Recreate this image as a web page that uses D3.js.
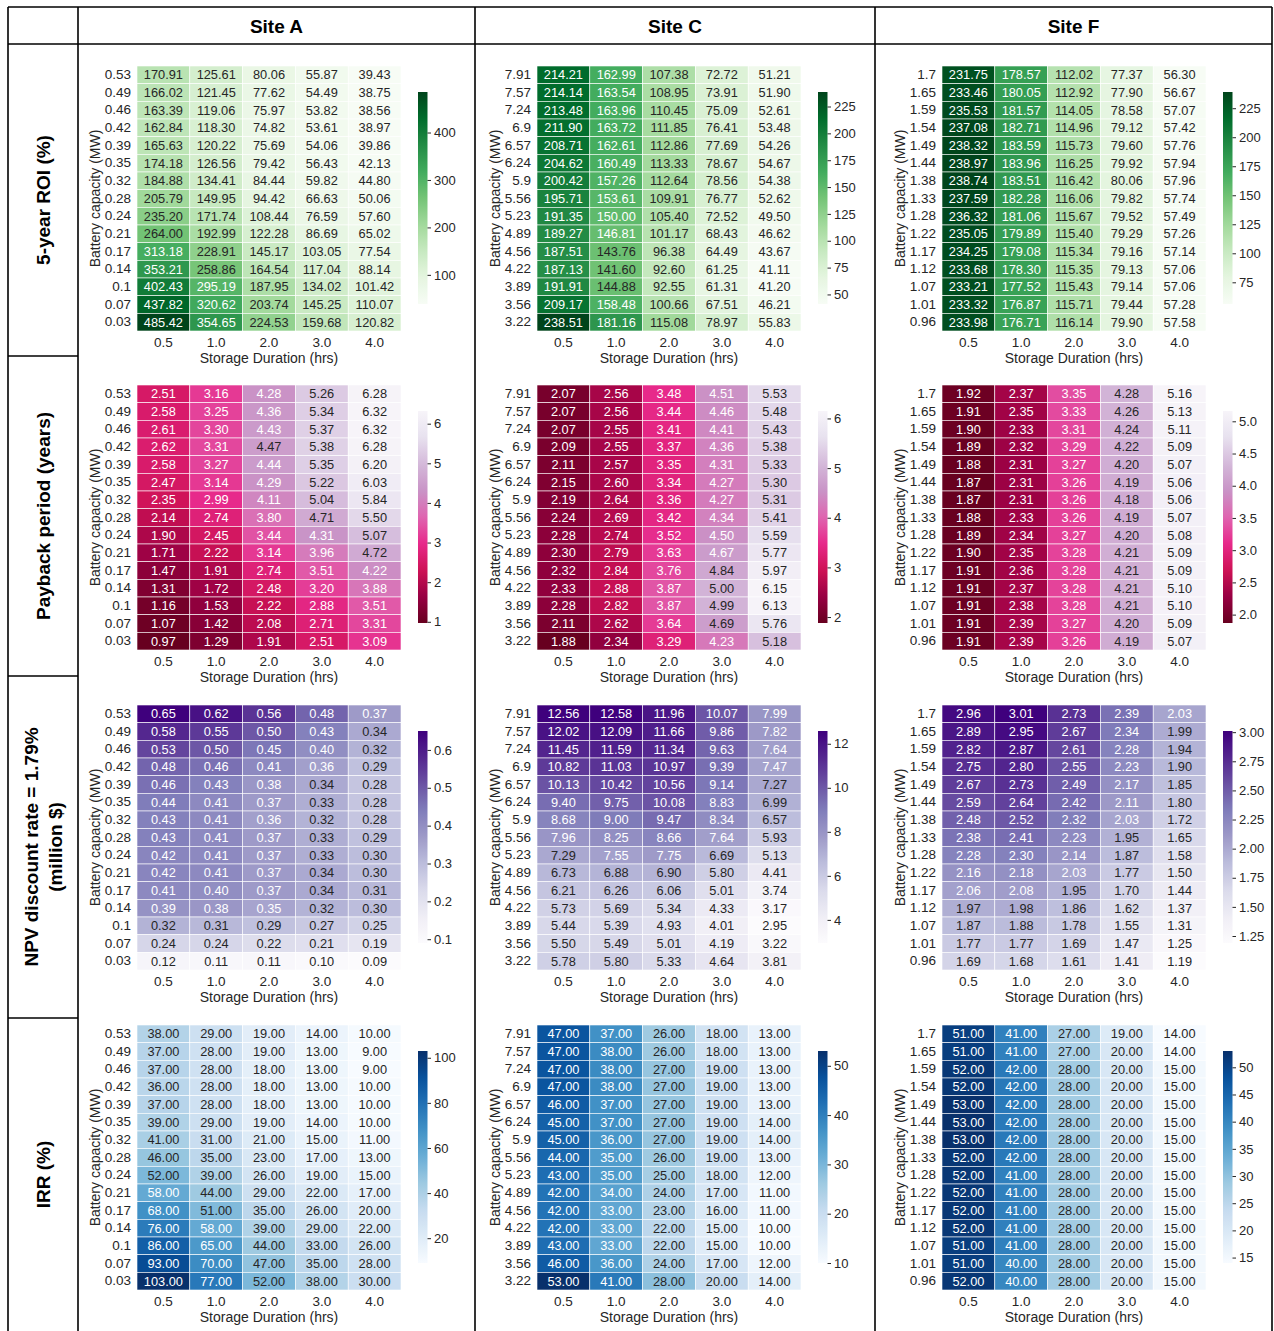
<!DOCTYPE html>
<html>
<head>
<meta charset="utf-8">
<script src="https://cdn.jsdelivr.net/npm/d3@7/dist/d3.min.js"></script>
<style>
    body { margin: 0; background: #fff; }
    svg { font-family: "Liberation Sans", Arial, sans-serif; }
</style>
</head>
<body>
<div class="chart"></div>
<script>

// columns / rows of the grid
var sites = ["Site A", "Site C", "Site F"];
var durations = ["0.5", "1.0", "2.0", "3.0", "4.0"];

var capacityA = ["0.53", "0.49", "0.46", "0.42", "0.39", "0.35", "0.32", "0.28", "0.24", "0.21", "0.17", "0.14", "0.1", "0.07", "0.03"];
var capacityC = ["7.91", "7.57", "7.24", "6.9", "6.57", "6.24", "5.9", "5.56", "5.23", "4.89", "4.56", "4.22", "3.89", "3.56", "3.22"];
var capacityF = ["1.7", "1.65", "1.59", "1.54", "1.49", "1.44", "1.38", "1.33", "1.28", "1.22", "1.17", "1.12", "1.07", "1.01", "0.96"];

// 5-year ROI (%)
var roiA = [
    [170.91, 125.61, 80.06, 55.87, 39.43],
    [166.02, 121.45, 77.62, 54.49, 38.75],
    [163.39, 119.06, 75.97, 53.82, 38.56],
    [162.84, 118.30, 74.82, 53.61, 38.97],
    [165.63, 120.22, 75.69, 54.06, 39.86],
    [174.18, 126.56, 79.42, 56.43, 42.13],
    [184.88, 134.41, 84.44, 59.82, 44.80],
    [205.79, 149.95, 94.42, 66.63, 50.06],
    [235.20, 171.74, 108.44, 76.59, 57.60],
    [264.00, 192.99, 122.28, 86.69, 65.02],
    [313.18, 228.91, 145.17, 103.05, 77.54],
    [353.21, 258.86, 164.54, 117.04, 88.14],
    [402.43, 295.19, 187.95, 134.02, 101.42],
    [437.82, 320.62, 203.74, 145.25, 110.07],
    [485.42, 354.65, 224.53, 159.68, 120.82]
];
var roiC = [
    [214.21, 162.99, 107.38, 72.72, 51.21],
    [214.14, 163.54, 108.95, 73.91, 51.90],
    [213.48, 163.96, 110.45, 75.09, 52.61],
    [211.90, 163.72, 111.85, 76.41, 53.48],
    [208.71, 162.61, 112.86, 77.69, 54.26],
    [204.62, 160.49, 113.33, 78.67, 54.67],
    [200.42, 157.26, 112.64, 78.56, 54.38],
    [195.71, 153.61, 109.91, 76.77, 52.62],
    [191.35, 150.00, 105.40, 72.52, 49.50],
    [189.27, 146.81, 101.17, 68.43, 46.62],
    [187.51, 143.76, 96.38, 64.49, 43.67],
    [187.13, 141.60, 92.60, 61.25, 41.11],
    [191.91, 144.88, 92.55, 61.31, 41.20],
    [209.17, 158.48, 100.66, 67.51, 46.21],
    [238.51, 181.16, 115.08, 78.97, 55.83]
];
var roiF = [
    [231.75, 178.57, 112.02, 77.37, 56.30],
    [233.46, 180.05, 112.92, 77.90, 56.67],
    [235.53, 181.57, 114.05, 78.58, 57.07],
    [237.08, 182.71, 114.96, 79.12, 57.42],
    [238.32, 183.59, 115.73, 79.60, 57.76],
    [238.97, 183.96, 116.25, 79.92, 57.94],
    [238.74, 183.51, 116.42, 80.06, 57.96],
    [237.59, 182.28, 116.06, 79.82, 57.74],
    [236.32, 181.06, 115.67, 79.52, 57.49],
    [235.05, 179.89, 115.40, 79.29, 57.26],
    [234.25, 179.08, 115.34, 79.16, 57.14],
    [233.68, 178.30, 115.35, 79.13, 57.06],
    [233.21, 177.52, 115.43, 79.14, 57.06],
    [233.32, 176.87, 115.71, 79.44, 57.28],
    [233.98, 176.71, 116.14, 79.90, 57.58]
];

// Payback period (years)
var paybackA = [
    [2.51, 3.16, 4.28, 5.26, 6.28],
    [2.58, 3.25, 4.36, 5.34, 6.32],
    [2.61, 3.30, 4.43, 5.37, 6.32],
    [2.62, 3.31, 4.47, 5.38, 6.28],
    [2.58, 3.27, 4.44, 5.35, 6.20],
    [2.47, 3.14, 4.29, 5.22, 6.03],
    [2.35, 2.99, 4.11, 5.04, 5.84],
    [2.14, 2.74, 3.80, 4.71, 5.50],
    [1.90, 2.45, 3.44, 4.31, 5.07],
    [1.71, 2.22, 3.14, 3.96, 4.72],
    [1.47, 1.91, 2.74, 3.51, 4.22],
    [1.31, 1.72, 2.48, 3.20, 3.88],
    [1.16, 1.53, 2.22, 2.88, 3.51],
    [1.07, 1.42, 2.08, 2.71, 3.31],
    [0.97, 1.29, 1.91, 2.51, 3.09]
];
var paybackC = [
    [2.07, 2.56, 3.48, 4.51, 5.53],
    [2.07, 2.56, 3.44, 4.46, 5.48],
    [2.07, 2.55, 3.41, 4.41, 5.43],
    [2.09, 2.55, 3.37, 4.36, 5.38],
    [2.11, 2.57, 3.35, 4.31, 5.33],
    [2.15, 2.60, 3.34, 4.27, 5.30],
    [2.19, 2.64, 3.36, 4.27, 5.31],
    [2.24, 2.69, 3.42, 4.34, 5.41],
    [2.28, 2.74, 3.52, 4.50, 5.59],
    [2.30, 2.79, 3.63, 4.67, 5.77],
    [2.32, 2.84, 3.76, 4.84, 5.97],
    [2.33, 2.88, 3.87, 5.00, 6.15],
    [2.28, 2.82, 3.87, 4.99, 6.13],
    [2.11, 2.62, 3.64, 4.69, 5.76],
    [1.88, 2.34, 3.29, 4.23, 5.18]
];
var paybackF = [
    [1.92, 2.37, 3.35, 4.28, 5.16],
    [1.91, 2.35, 3.33, 4.26, 5.13],
    [1.90, 2.33, 3.31, 4.24, 5.11],
    [1.89, 2.32, 3.29, 4.22, 5.09],
    [1.88, 2.31, 3.27, 4.20, 5.07],
    [1.87, 2.31, 3.26, 4.19, 5.06],
    [1.87, 2.31, 3.26, 4.18, 5.06],
    [1.88, 2.33, 3.26, 4.19, 5.07],
    [1.89, 2.34, 3.27, 4.20, 5.08],
    [1.90, 2.35, 3.28, 4.21, 5.09],
    [1.91, 2.36, 3.28, 4.21, 5.09],
    [1.91, 2.37, 3.28, 4.21, 5.10],
    [1.91, 2.38, 3.28, 4.21, 5.10],
    [1.91, 2.39, 3.27, 4.20, 5.09],
    [1.91, 2.39, 3.26, 4.19, 5.07]
];

// NPV (million $)
var npvA = [
    [0.65, 0.62, 0.56, 0.48, 0.37],
    [0.58, 0.55, 0.50, 0.43, 0.34],
    [0.53, 0.50, 0.45, 0.40, 0.32],
    [0.48, 0.46, 0.41, 0.36, 0.29],
    [0.46, 0.43, 0.38, 0.34, 0.28],
    [0.44, 0.41, 0.37, 0.33, 0.28],
    [0.43, 0.41, 0.36, 0.32, 0.28],
    [0.43, 0.41, 0.37, 0.33, 0.29],
    [0.42, 0.41, 0.37, 0.33, 0.30],
    [0.42, 0.41, 0.37, 0.34, 0.30],
    [0.41, 0.40, 0.37, 0.34, 0.31],
    [0.39, 0.38, 0.35, 0.32, 0.30],
    [0.32, 0.31, 0.29, 0.27, 0.25],
    [0.24, 0.24, 0.22, 0.21, 0.19],
    [0.12, 0.11, 0.11, 0.10, 0.09]
];
var npvC = [
    [12.56, 12.58, 11.96, 10.07, 7.99],
    [12.02, 12.09, 11.66, 9.86, 7.82],
    [11.45, 11.59, 11.34, 9.63, 7.64],
    [10.82, 11.03, 10.97, 9.39, 7.47],
    [10.13, 10.42, 10.56, 9.14, 7.27],
    [9.40, 9.75, 10.08, 8.83, 6.99],
    [8.68, 9.00, 9.47, 8.34, 6.57],
    [7.96, 8.25, 8.66, 7.64, 5.93],
    [7.29, 7.55, 7.75, 6.69, 5.13],
    [6.73, 6.88, 6.90, 5.80, 4.41],
    [6.21, 6.26, 6.06, 5.01, 3.74],
    [5.73, 5.69, 5.34, 4.33, 3.17],
    [5.44, 5.39, 4.93, 4.01, 2.95],
    [5.50, 5.49, 5.01, 4.19, 3.22],
    [5.78, 5.80, 5.33, 4.64, 3.81]
];
var npvF = [
    [2.96, 3.01, 2.73, 2.39, 2.03],
    [2.89, 2.95, 2.67, 2.34, 1.99],
    [2.82, 2.87, 2.61, 2.28, 1.94],
    [2.75, 2.80, 2.55, 2.23, 1.90],
    [2.67, 2.73, 2.49, 2.17, 1.85],
    [2.59, 2.64, 2.42, 2.11, 1.80],
    [2.48, 2.52, 2.32, 2.03, 1.72],
    [2.38, 2.41, 2.23, 1.95, 1.65],
    [2.28, 2.30, 2.14, 1.87, 1.58],
    [2.16, 2.18, 2.03, 1.77, 1.50],
    [2.06, 2.08, 1.95, 1.70, 1.44],
    [1.97, 1.98, 1.86, 1.62, 1.37],
    [1.87, 1.88, 1.78, 1.55, 1.31],
    [1.77, 1.77, 1.69, 1.47, 1.25],
    [1.69, 1.68, 1.61, 1.41, 1.19]
];

// IRR (%)
var irrA = [
    [38, 29, 19, 14, 10],
    [37, 28, 19, 13, 9],
    [37, 28, 18, 13, 9],
    [36, 28, 18, 13, 10],
    [37, 28, 18, 13, 10],
    [39, 29, 19, 14, 10],
    [41, 31, 21, 15, 11],
    [46, 35, 23, 17, 13],
    [52, 39, 26, 19, 15],
    [58, 44, 29, 22, 17],
    [68, 51, 35, 26, 20],
    [76, 58, 39, 29, 22],
    [86, 65, 44, 33, 26],
    [93, 70, 47, 35, 28],
    [103, 77, 52, 38, 30]
];
var irrC = [
    [47, 37, 26, 18, 13],
    [47, 38, 26, 18, 13],
    [47, 38, 27, 19, 13],
    [47, 38, 27, 19, 13],
    [46, 37, 27, 19, 13],
    [45, 37, 27, 19, 14],
    [45, 36, 27, 19, 14],
    [44, 35, 26, 19, 13],
    [43, 35, 25, 18, 12],
    [42, 34, 24, 17, 11],
    [42, 33, 23, 16, 11],
    [42, 33, 22, 15, 10],
    [43, 33, 22, 15, 10],
    [46, 36, 24, 17, 12],
    [53, 41, 28, 20, 14]
];
var irrF = [
    [51, 41, 27, 19, 14],
    [51, 41, 27, 20, 14],
    [52, 42, 28, 20, 15],
    [52, 42, 28, 20, 15],
    [53, 42, 28, 20, 15],
    [53, 42, 28, 20, 15],
    [53, 42, 28, 20, 15],
    [52, 42, 28, 20, 15],
    [52, 41, 28, 20, 15],
    [52, 41, 28, 20, 15],
    [52, 41, 28, 20, 15],
    [52, 41, 28, 20, 15],
    [51, 41, 28, 20, 15],
    [51, 40, 28, 20, 15],
    [52, 40, 28, 20, 15]
];

// colorbar tick labels
var roiTicksA = [100, 200, 300, 400];
var roiTicksC = [50, 75, 100, 125, 150, 175, 200, 225];
var roiTicksF = [75, 100, 125, 150, 175, 200, 225];
var paybackTicksA = [1, 2, 3, 4, 5, 6];
var paybackTicksC = [2, 3, 4, 5, 6];
var paybackTicksF = [2.0, 2.5, 3.0, 3.5, 4.0, 4.5, 5.0];
var npvTicksA = [0.1, 0.2, 0.3, 0.4, 0.5, 0.6];
var npvTicksC = [4, 6, 8, 10, 12];
var npvTicksF = [1.25, 1.50, 1.75, 2.00, 2.25, 2.50, 2.75, 3.00];
var irrTicksA = [20, 40, 60, 80, 100];
var irrTicksC = [10, 20, 30, 40, 50];
var irrTicksF = [15, 20, 25, 30, 35, 40, 45, 50];


var render = function() {

    var svgWidth = 1274;
    var svgHeight = 1331;

    // heatmap geometry inside the table
    var heatW = 264;
    var heatH = 265;
    var heatLeft = [137, 537, 942];
    var heatTop = [66, 385, 705, 1025];
    var colEdges = [78, 475, 875, 1272];
    var rowEdges = [44, 356, 676, 1018, 1331];
    var textColor = "#262626";

    var rows = [
        {label: ["5-year ROI (%)"], ramp: d3.schemeGreens[9],
            panels: [[roiA, roiTicksA, "d"], [roiC, roiTicksC, "d"], [roiF, roiTicksF, "d"]]},
        {label: ["Payback period (years)"], ramp: d3.schemePuRd[9].slice().reverse(),
            panels: [[paybackA, paybackTicksA, "d"], [paybackC, paybackTicksC, "d"], [paybackF, paybackTicksF, ".1f"]]},
        {label: ["NPV discount rate = 1.79%", "(million $)"], ramp: d3.schemePurples[9],
            panels: [[npvA, npvTicksA, ".1f"], [npvC, npvTicksC, "d"], [npvF, npvTicksF, ".2f"]]},
        {label: ["IRR (%)"], ramp: d3.schemeBlues[9],
            panels: [[irrA, irrTicksA, "d"], [irrC, irrTicksC, "d"], [irrF, irrTicksF, "d"]]}
    ];
    var capacities = [capacityA, capacityC, capacityF];

    d3.select("svg").remove();

    var svg = d3.select(".chart")
        .append("svg")
        .attr("width", svgWidth)
        .attr("height", svgHeight);

    var defs = svg.append("defs");

    // Step 1: table frame (open at the bottom, the page cuts it)
    // ==============================
    var frame = svg.append("g")
        .attr("stroke", "#000")
        .attr("stroke-width", 1.6)
        .attr("fill", "none");

    frame.append("line").attr("x1", 8).attr("x2", 1272).attr("y1", 7).attr("y2", 7);
    frame.append("line").attr("x1", 8).attr("x2", 8).attr("y1", 7).attr("y2", 1331);
    colEdges.forEach(function(x) {
        frame.append("line").attr("x1", x).attr("x2", x).attr("y1", 7).attr("y2", 1331);
    });
    frame.append("line").attr("x1", 8).attr("x2", 1272).attr("y1", 44).attr("y2", 44);
    rowEdges.slice(1, 4).forEach(function(y) {
        frame.append("line").attr("x1", 8).attr("x2", 78).attr("y1", y).attr("y2", y);
    });

    // Step 2: header and row titles
    // ==============================
    sites.forEach(function(s, i) {
        svg.append("text")
            .attr("x", (colEdges[i] + colEdges[i + 1]) / 2)
            .attr("y", 26)
            .attr("dy", "0.35em")
            .attr("text-anchor", "middle")
            .attr("font-size", "19px")
            .attr("font-weight", "bold")
            .attr("fill", "#000")
            .text(s);
    });

    rows.forEach(function(row, r) {
        var cy = (rowEdges[r] + rowEdges[r + 1]) / 2;
        var n = row.label.length;
        row.label.forEach(function(line, k) {
            var cx = 43 + (k - (n - 1) / 2) * 24;
            svg.append("text")
                .attr("transform", `translate(${cx}, ${cy}) rotate(-90)`)
                .attr("dy", "0.35em")
                .attr("text-anchor", "middle")
                .attr("font-size", "19px")
                .attr("font-weight", "bold")
                .attr("fill", "#000")
                .text(line);
        });
    });

    // luminance rule used by seaborn for annotation colour
    function lum(c) {
        var rgb = d3.rgb(c);
        var v = [rgb.r, rgb.g, rgb.b].map(function(ch) {
            ch = ch / 255;
            return ch <= 0.03928 ? ch / 12.92 : Math.pow((ch + 0.055) / 1.055, 2.4);
        });
        return 0.2126 * v[0] + 0.7152 * v[1] + 0.0722 * v[2];
    }

    // Step 3: heatmaps
    // ==============================
    rows.forEach(function(row, r) {
        row.panels.forEach(function(panel, c) {
            var values = panel[0];
            var ticks = panel[1];
            var fmt = d3.format(panel[2]);

            var x0 = heatLeft[c];
            var y0 = heatTop[r];
            var g = svg.append("g");

            var xScale = d3.scaleBand().domain(durations).range([x0, x0 + heatW]);
            var yScale = d3.scaleBand().domain(capacities[c]).range([y0, y0 + heatH]);

            var ext = d3.extent(values.flat());
            var stops = row.ramp.map(function(d, i) {
                return ext[0] + i * (ext[1] - ext[0]) / (row.ramp.length - 1);
            });
            var color = d3.scaleLinear().domain(stops).range(row.ramp).interpolate(d3.interpolateRgb);

            var cells = [];
            values.forEach(function(vals, i) {
                vals.forEach(function(v, j) {
                    cells.push({cap: capacities[c][i], dur: durations[j], v: v});
                });
            });

            g.selectAll("rect.cell")
                .data(cells)
                .enter()
                .append("rect")
                .attr("class", "cell")
                .attr("x", d => xScale(d.dur))
                .attr("y", d => yScale(d.cap))
                .attr("width", xScale.bandwidth())
                .attr("height", yScale.bandwidth())
                .attr("fill", d => color(d.v))
                .attr("stroke", "#fff")
                .attr("stroke-width", 0.6);

            g.selectAll("text.val")
                .data(cells)
                .enter()
                .append("text")
                .attr("class", "val")
                .attr("x", d => xScale(d.dur) + xScale.bandwidth() / 2)
                .attr("y", d => yScale(d.cap) + yScale.bandwidth() / 2)
                .attr("dy", "0.36em")
                .attr("text-anchor", "middle")
                .attr("font-size", "12.8px")
                .attr("fill", d => lum(color(d.v)) > 0.408 ? textColor : "#fff")
                .text(d => d3.format(".2f")(d.v));

            // axes
            var bottomAxis = d3.axisBottom(xScale).tickSize(0).tickPadding(6);
            var leftAxis = d3.axisLeft(yScale).tickSize(0).tickPadding(6);

            var bx = g.append("g")
                .attr("transform", `translate(0, ${y0 + heatH})`)
                .call(bottomAxis);
            var lx = g.append("g")
                .attr("transform", `translate(${x0}, 0)`)
                .call(leftAxis);
            [bx, lx].forEach(function(a) {
                a.select(".domain").remove();
                a.selectAll("text")
                    .attr("font-size", "13.5px")
                    .attr("font-family", "Liberation Sans, Arial, sans-serif")
                    .attr("fill", textColor);
            });

            g.append("text")
                .attr("x", x0 + heatW / 2)
                .attr("y", y0 + heatH + 32)
                .attr("text-anchor", "middle")
                .attr("font-size", "14px")
                .attr("fill", textColor)
                .text("Storage Duration (hrs)");

            g.append("text")
                .attr("transform", `translate(${x0 - 42}, ${y0 + heatH / 2}) rotate(-90)`)
                .attr("dy", "0.35em")
                .attr("text-anchor", "middle")
                .attr("font-size", "14px")
                .attr("fill", textColor)
                .text("Battery capacity (MW)");

            // colorbar
            var cbX = x0 + heatW + 17;
            var cbTop = y0 + 26;
            var cbH = 212;
            var cbW = 9.5;
            var gid = "grad" + r + c;

            var grad = defs.append("linearGradient")
                .attr("id", gid)
                .attr("x1", 0).attr("y1", 1).attr("x2", 0).attr("y2", 0);
            grad.selectAll("stop")
                .data(d3.range(0, 1.0001, 0.02))
                .enter()
                .append("stop")
                .attr("offset", d => d)
                .attr("stop-color", d => color(ext[0] + d * (ext[1] - ext[0])));

            g.append("rect")
                .attr("x", cbX).attr("y", cbTop)
                .attr("width", cbW).attr("height", cbH)
                .attr("fill", `url(#${gid})`);

            var cbScale = d3.scaleLinear().domain(ext).range([cbTop + cbH, cbTop]);
            var cbAxis = d3.axisRight(cbScale).tickValues(ticks).tickFormat(fmt)
                .tickSize(3.5).tickPadding(3);
            var ca = g.append("g")
                .attr("transform", `translate(${cbX + cbW}, 0)`)
                .call(cbAxis);
            ca.select(".domain").remove();
            ca.selectAll("line").attr("stroke", textColor).attr("stroke-width", 1);
            ca.selectAll("text")
                .attr("font-size", "13px")
                .attr("font-family", "Liberation Sans, Arial, sans-serif")
                .attr("fill", textColor);
        });
    });
}

render();

</script>
</body>
</html>
